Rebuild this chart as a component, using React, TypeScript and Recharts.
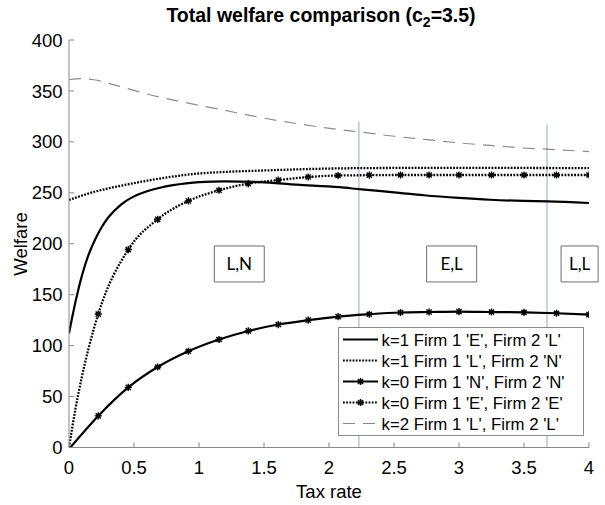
import React from 'react';
import { LineChart, Line, XAxis, YAxis, ReferenceLine, ReferenceArea, Label } from 'recharts';

// ---------- data ----------
const xTicks = [0, 0.5, 1, 1.5, 2, 2.5, 3, 3.5, 4];
const yTicks = [0, 50, 100, 150, 200, 250, 300, 350, 400];

// k=1 Firm 1 'E', Firm 2 'L' (solid)
const elX = [0, 0.05, 0.1, 0.15, 0.2, 0.25, 0.3, 0.4, 0.5, 0.6, 0.7, 0.8, 0.9, 1.0, 1.2, 1.47, 1.75, 2.08, 2.25, 2.5, 2.73, 3.0, 3.24, 3.5, 3.68, 4];
const elY = [112, 143, 169, 189, 204, 216, 225.5, 238.5, 246.5, 251.5, 255, 257.5, 259.3, 260.5, 261.2, 260.5, 258, 255.5, 253.3, 250.5, 247.6, 245, 243.2, 242, 241.5, 240];

// k=1 Firm 1 'L', Firm 2 'N' (dotted)
const lnX = [0, 0.19, 0.44, 0.7, 0.96, 1.2, 1.47, 2, 2.5, 3, 3.5, 4];
const lnY = [243, 250.8, 258, 264, 268.5, 270.5, 271.8, 273.8, 274.4, 274.5, 274.4, 274.2];

// marker positions shared by the two k=0 series
const markerX = [0.225, 0.456, 0.682, 0.918, 1.154, 1.379, 1.61, 1.84, 2.07, 2.31, 2.55, 2.77, 3.0, 3.25, 3.5, 3.75, 4.0];
// k=0 Firm 1 'N', Firm 2 'N' (solid + markers)
const nnStartX = [0.01];
const nnStartY = [0];
const nnY = [31, 59, 79, 94.5, 106, 114.4, 120.7, 125, 128.5, 130.8, 132.5, 133, 133.4, 133, 132.7, 131.8, 130.5];
// k=0 Firm 1 'E', Firm 2 'E' (dotted + markers)
const eeStartX = [0, 0.05, 0.1, 0.15];
const eeStartY = [0, 38, 70, 97];
const eeY = [131, 194.3, 224, 242, 252.5, 259, 262.5, 265.5, 267, 267.3, 267.5, 267.5, 267.5, 267.5, 267.5, 267.5, 267.5];

// k=2 Firm 1 'L', Firm 2 'L' (grey dashed)
const llX = [0, 0.1, 0.19, 0.35, 0.57, 0.88, 1.16, 1.47, 1.75, 2.08, 2.25, 2.5, 2.73, 3.0, 3.24, 3.5, 3.68, 4];
const llY = [361, 362, 361, 356, 348, 339, 332, 324, 318, 312, 309.5, 305.5, 302.5, 299, 296.5, 294, 292.8, 290.5];

// regime boundaries (vertical lines) and region labels
const boundaryX = [2.23, 3.677];
const boundaryTop = [320, 317];
const regionLabels = ['L,N', 'E,L', 'L,L'];
const regionX1 = [1.118, 2.751, 3.785];
const regionX2 = [1.502, 3.136, 4.07];
const regionY1 = 162.5;
const regionY2 = 197.8;

const legendLabels = [
  "k=1 Firm 1 'E', Firm 2 'L'",
  "k=1 Firm 1 'L', Firm 2 'N'",
  "k=0 Firm 1 'N', Firm 2 'N'",
  "k=0 Firm 1 'E', Firm 2 'E'",
  "k=2 Firm 1 'L', Firm 2 'L'",
];

const zip = (xs: number[], ys: number[], mk = false) => xs.map((x, i) => ({ x, y: ys[i], mk }));
const elData = zip(elX, elY);
const lnData = zip(lnX, lnY);
const nnData = [...zip(nnStartX, nnStartY), ...zip(markerX, nnY, true)];
const eeData = [...zip(eeStartX, eeStartY), ...zip(markerX, eeY, true)];
const llData = zip(llX, llY);

const FONT = "'Liberation Sans', Arial, Helvetica, sans-serif";
const DOT = '1.8 1.4';

const starPath = (cx: number, cy: number) => {
  const r = 3.6;
  const d = r * 0.72;
  return `M${cx - r},${cy}H${cx + r}M${cx},${cy - r}V${cy + r}M${cx - d},${cy - d}L${cx + d},${cy + d}M${cx - d},${cy + d}L${cx + d},${cy - d}`;
};

const Star = (props: any) => {
  const { cx, cy, payload, index } = props;
  if (!payload || !payload.mk || cx == null || cy == null) return <g key={`n${index}`} />;
  return (
    <g key={`s${index}`}>
      <path d={starPath(cx, cy)} stroke="#000" strokeWidth={1.4} strokeDasharray="none" fill="none" />
      <circle cx={cx} cy={cy} r={1.8} fill="#000" stroke="none" />
    </g>
  );
};

const LegendBox = () => {
  const rowY = (i: number) => 12.5 + i * 21;
  return (
    <div
      style={{
        position: 'absolute',
        left: 338,
        top: 327,
        width: 246,
        height: 109,
        border: '1px solid #8a8a8a',
        background: '#fff',
        boxSizing: 'border-box',
      }}
    >
      <svg width={246} height={109} style={{ position: 'absolute', left: -1, top: -1 }}>
        {legendLabels.map((lab, i) => {
          const y = rowY(i);
          let sample: React.ReactNode = null;
          if (i === 0) sample = <line x1={5} x2={40} y1={y} y2={y} stroke="#000" strokeWidth={2.2} />;
          if (i === 1) sample = <line x1={5} x2={40} y1={y} y2={y} stroke="#000" strokeWidth={2.2} strokeDasharray={DOT} />;
          if (i === 2)
            sample = (
              <g>
                <line x1={5} x2={40} y1={y} y2={y} stroke="#000" strokeWidth={2.2} />
                <path d={starPath(22.5, y)} stroke="#000" strokeWidth={1.4} fill="none" />
                <circle cx={22.5} cy={y} r={1.8} fill="#000" />
              </g>
            );
          if (i === 3)
            sample = (
              <g>
                <line x1={5} x2={40} y1={y} y2={y} stroke="#000" strokeWidth={2.2} strokeDasharray={DOT} />
                <path d={starPath(22.5, y)} stroke="#000" strokeWidth={1.4} fill="none" />
                <circle cx={22.5} cy={y} r={1.8} fill="#000" />
              </g>
            );
          if (i === 4)
            sample = <line x1={5} x2={40} y1={y} y2={y} stroke="#888" strokeWidth={1.2} strokeDasharray="12 8" />;
          return (
            <g key={lab}>
              {sample}
              <text x={43.5} y={y} dy="0.36em" fontFamily={FONT} fontSize={16.8} fill="#000">
                {lab}
              </text>
            </g>
          );
        })}
      </svg>
    </div>
  );
};

export default function App() {
  return (
    <div style={{ position: 'absolute', left: 0, top: 0, width: 605, height: 505, background: '#fff' }}>
      <div
        style={{
          position: 'absolute',
          left: 121,
          top: 3,
          width: 400,
          textAlign: 'center',
          fontFamily: FONT,
          fontWeight: 'bold',
          fontSize: 19.5,
          lineHeight: '24px',
          color: '#000',
        }}
      >
        Total welfare comparison (c<sub style={{ fontSize: 14, verticalAlign: -5, lineHeight: 0 }}>2</sub>=3.5)
      </div>
      <LineChart
        width={605}
        height={505}
        margin={{ top: 40, right: 16, bottom: 27.5, left: 29 }}
        style={{ position: 'absolute', left: 0, top: 0 }}
      >
        <XAxis
          dataKey="x"
          type="number"
          domain={[0, 4]}
          ticks={xTicks}
          height={30}
          tickSize={-5}
          tickMargin={18}
          stroke="#888"
          tick={{ fill: '#000', fontSize: 18.5, fontFamily: FONT }}
          allowDataOverflow
        >
          <Label
            content={() => (
              <text x={329} y={497.5} textAnchor="middle" fontFamily={FONT} fontSize={18.5} fill="#000">
                Tax rate
              </text>
            )}
          />
        </XAxis>
        <YAxis
          type="number"
          domain={[0, 400]}
          ticks={yTicks}
          width={40}
          tickSize={-5}
          tickMargin={11.5}
          stroke="#888"
          tick={{ fill: '#000', fontSize: 18.5, fontFamily: FONT }}
          allowDataOverflow
        >
          <Label
            content={() => (
              <text
                x={27}
                y={244}
                transform="rotate(-90 27 244)"
                textAnchor="middle"
                fontFamily={FONT}
                fontSize={18.5}
                fill="#000"
              >
                Welfare
              </text>
            )}
          />
        </YAxis>

        {boundaryX.map((bx, i) => (
          <ReferenceLine
            key={`b${i}`}
            segment={[
              { x: bx, y: 0 },
              { x: bx, y: boundaryTop[i] },
            ]}
            stroke="#9fbad3"
            strokeWidth={1.2}
          />
        ))}

        {regionLabels.map((lab, i) => (
          <ReferenceArea
            key={lab}
            x1={regionX1[i]}
            x2={regionX2[i]}
            y1={regionY1}
            y2={regionY2}
            fill="#fff"
            fillOpacity={1}
            stroke="#6e6e6e"
            strokeWidth={1}
            ifOverflow="visible"
            label={{ value: lab, position: 'center', fill: '#000', fontSize: 17, fontFamily: 'Lato, Carlito, sans-serif' }}
          />
        ))}

        <Line data={llData} dataKey="y" type="monotone" stroke="#8c8c8c" strokeWidth={1.2} strokeDasharray="12 8" dot={false} activeDot={false} isAnimationActive={false} />
        <Line data={lnData} dataKey="y" type="monotone" stroke="#000" strokeWidth={2.3} strokeDasharray={DOT} dot={false} activeDot={false} isAnimationActive={false} />
        <Line data={eeData} dataKey="y" type="monotone" stroke="#000" strokeWidth={2.3} strokeDasharray={DOT} dot={Star} activeDot={false} isAnimationActive={false} />
        <Line data={elData} dataKey="y" type="monotone" stroke="#000" strokeWidth={2.2} dot={false} activeDot={false} isAnimationActive={false} />
        <Line data={nnData} dataKey="y" type="monotone" stroke="#000" strokeWidth={2.2} dot={Star} activeDot={false} isAnimationActive={false} />
      </LineChart>
      <LegendBox />
    </div>
  );
}
